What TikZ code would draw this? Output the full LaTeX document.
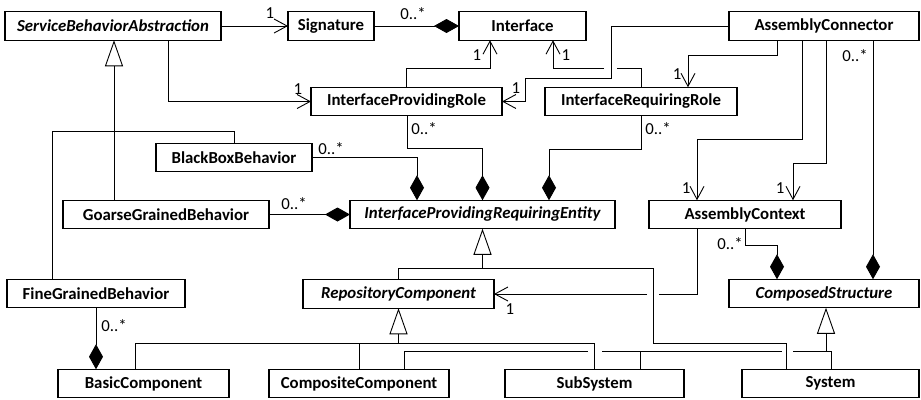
\documentclass[tikz,border=0pt]{standalone}
\usepackage{fontspec}
\setmainfont{Carlito}
\usetikzlibrary{arrows.meta}
\begin{document}
\begin{tikzpicture}[x=1pt,y=-1pt,
  cls/.style={draw, line width=1.1pt, inner sep=0pt, outer sep=0pt,
    minimum height=28.5pt, font=\fontsize{16.8}{20}\selectfont\bfseries},
  abs/.style={cls, font=\fontsize{16.8}{20}\selectfont\bfseries\itshape},
  conn/.style={line width=0.9pt},
  assoc/.style={conn, -{Straight Barb[length=13pt,width=14pt,line width=0.9pt]}},
  comp/.style={conn, {Diamond[length=25pt,width=14pt]}-},
  gen/.style={conn, -{Triangle[open,length=26pt,width=18pt,fill=white,line width=0.9pt]}},
  mult/.style={font=\fontsize{16.8}{20}\selectfont, inner sep=0pt},
]
\path[use as bounding box] (0,0) rectangle (921,399);

% classes
\node[abs, minimum width=216pt] (sba)  at (113,26)    {ServiceBehaviorAbstraction};
\node[cls, minimum width=86pt]  (sig)  at (331,26)    {Signature};
\node[cls, minimum width=127pt] (iface) at (522.5,26) {Interface};
\node[cls, minimum width=190pt] (ac)   at (824,26)    {AssemblyConnector};
\node[cls, minimum width=191pt] (ipr)  at (406.5,101.5) {InterfaceProvidingRole};
\node[cls, minimum width=192pt] (irr)  at (641,101.5) {InterfaceRequiringRole};
\node[cls, minimum width=156pt] (bbb)  at (234,157.5) {BlackBoxBehavior};
\node[cls, minimum width=206pt] (ggb)  at (166,214.5) {GoarseGrainedBehavior};
\node[abs, minimum width=265pt] (ipre) at (482.5,214.5) {InterfaceProvidingRequiringEntity};
\node[cls, minimum width=192pt] (asm)  at (745,214.5) {AssemblyContext};
\node[cls, minimum width=178pt] (fgb)  at (96,293.5)  {FineGrainedBehavior};
\node[abs, minimum width=191pt] (rc)   at (398.5,294) {RepositoryComponent};
\node[abs, minimum width=190pt] (cs)   at (824,293.5) {ComposedStructure};
\node[cls, minimum width=171pt] (bc)   at (143.5,383.5) {BasicComponent};
\node[cls, minimum width=180pt] (cc)   at (359,383.5) {CompositeComponent};
\node[cls, minimum width=179pt] (ss)   at (594.5,383.5) {SubSystem};
\node[cls, minimum width=177pt] (sys)  at (830.5,383.5) {System};

% associations
\draw[assoc] (sba.east) -- (sig.west);
\draw[comp]  (iface.west) -- (sig.east);
\draw[assoc] (sba.south -| 168,0) |- (ipr.west);
\draw[assoc] (ipr.north) |- (490,68) -- (iface.south -| 490,0);
\draw[conn]  (irr.north) |- (617,68);
\draw[assoc] (604,68) -| (iface.south -| 553,0);
\draw[assoc] (ac.west) -| (611,78) -| (ipr.east -| 525,0) -- (ipr.east);
\draw[assoc] (ac.south -| 777,0) |- (688,55) -- (irr.north -| 688,0);
\draw[assoc] (ac.south -| 802,0) |- (697,139) -- (asm.north -| 697,0);
\draw[assoc] (ac.south -| 826,0) |- (793,163) -- (asm.north -| 793,0);
\draw[comp]  (cs.north -| 873,0) -- (ac.south -| 873,0);
\draw[comp]  (ipre.north -| 417,0) |- (bbb.east);
\draw[comp]  (ipre.north) |- (407,148) -- (ipr.south -| 407,0);
\draw[comp]  (ipre.north -| 549,0) |- (irr.south |- 0,149) -- (irr.south);
\draw[comp]  (ipre.west) -- (ggb.east);
\draw[conn]  (asm.south -| 697,0) |- (659,294);
\draw[assoc] (647,294) -- (rc.east);
\draw[comp]  (cs.north -| 777,0) |- (745,245) -- (asm.south);
\draw[comp]  (bc.north -| 96,0) -- (fgb.south);

% generalizations
\draw[gen]  (ggb.north -| 114,0) -- (sba.south -| 114,0);
\draw[conn] (fgb.north -| 52,0) |- (234,131) -- (bbb.north);
\draw[gen]  (rc.north) |- (482.5,268) -- (ipre.south);
\draw[conn] (482.5,268) -| (653,343) -| (sys.north -| 786,0);
\draw[gen]  (rc.south |- 0,343) -- (rc.south);
\draw[conn] (bc.north -| 135,0) -- (135,343) -| (ss.north);
\draw[conn] (cc.north) -- (359,343);
\coordinate (csj) at (826,351);
\draw[gen]  (csj) -- (cs.south -| csj);
\draw[conn] (cc.north -| 404,0) |- (588,351);
\draw[conn] (602,351) -- (782,351);
\draw[conn] (793,351) -- (831,351) -- (sys.north -| 831,0);
\draw[conn] (ss.north -| 640,0) -- (640,351);

% multiplicities
\node[mult] (m1)  at (270,13)  {1};
\node[mult] (m2)  at (413,14)  {0..*};
\node[mult] (m3)  at (298,89)  {1};
\node[mult] (m4)  at (477,55)  {1};
\node[mult] (m5)  at (566,55)  {1};
\node[mult] (m6)  at (516,88)  {1};
\node[mult] (m7)  at (677,74)  {1};
\node[mult] (m8)  at (855,56)  {0..*};
\node[mult] (m9)  at (686,188) {1};
\node[mult] (m10) at (780,188) {1};
\node[mult] (m11) at (424,129) {0..*};
\node[mult] (m12) at (331,149) {0..*};
\node[mult] (m13) at (294,204) {0..*};
\node[mult] (m14) at (658,129) {0..*};
\node[mult] (m15) at (510,309) {1};
\node[mult] (m16) at (730,244) {0..*};
\node[mult] (m17) at (114,326) {0..*};
\end{tikzpicture}
\end{document}
